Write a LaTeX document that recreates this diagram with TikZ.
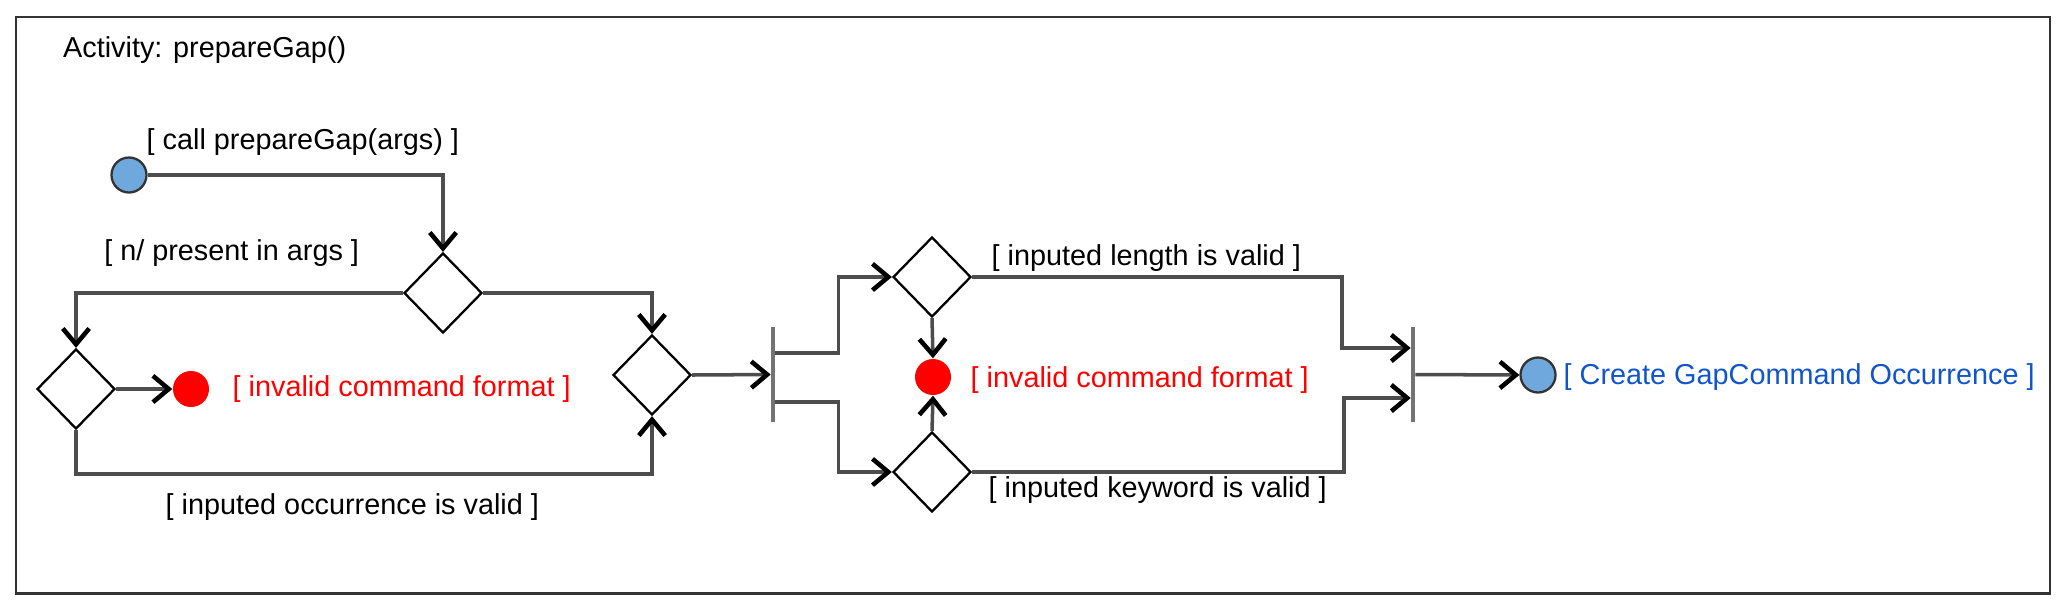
\documentclass[tikz,border=0pt]{standalone}
\usepackage{fontspec}
\setmainfont{Liberation Sans}
\usepackage{xcolor}
\usepackage{tikz}
\usetikzlibrary{shapes.geometric, arrows.meta, positioning}

\definecolor{nodeblue}{HTML}{6FA8DC}
\definecolor{textblue}{HTML}{1155CC}
\definecolor{flowgray}{HTML}{4D4D4D}

\tikzset{
  decision/.style={diamond, draw=black, line width=0.65pt, fill=white,
    minimum width=0.78cm, minimum height=0.8cm, inner sep=0pt},
  endpoint/.style={circle, draw=black!80, fill=nodeblue, line width=0.65pt,
    minimum size=0.35cm, inner sep=0pt},
  errdot/.style={circle, fill=red, minimum size=0.36cm, inner sep=0pt},
  syncbar/.style={rectangle, fill=black!55, minimum width=0.9pt,
    minimum height=0.95cm, inner sep=0pt},
  guard/.style={anchor=west, inner sep=0pt, font=\fontsize{8.2}{10}\selectfont},
  flow/.style={draw=flowgray, line width=1pt,
    -{Straight Barb[length=4.5pt, width=7.5pt, line width=1.3pt, color=black]}},
}

\begin{document}
\begin{tikzpicture}
  \useasboundingbox (0,0) rectangle (20.70,6.08);
  \draw[black!80, line width=0.6pt] (0.16,0.145) rectangle (20.50,5.91);
  \node[guard] (title) at (0.625,5.58) {Activity: prepareGap()};

  % left part
  \node[endpoint] (start) at (1.29,4.33) {};
  \node[guard] (callLbl) at (1.46,4.66) {[ call prepareGap(args) ]};
  \node[decision] (dArgs) at (4.43,3.15) {};
  \node[guard] (argsLbl) at (1.036,3.545) {[ n/ present in args ]};
  \node[decision] (dOcc) at (0.76,2.19) {};
  \node[errdot] (errA) at (1.91,2.19) {};
  \node[guard, text=red] (errALbl) at (2.32,2.19) {[ invalid command format ]};
  \node[decision] (dMerge) at (6.52,2.33) {};
  \node[guard] (occLbl) at (1.65,1.01) {[ inputed occurrence is valid ]};

  \draw[flow] (start.east) -| (dArgs.north);
  \draw[flow] (dArgs.west) -| (dOcc.north);
  \draw[flow] (dArgs.east) -| (dMerge.north);
  \draw[flow] (dOcc.east) -- (errA.west);
  \draw[flow] (dOcc.south) -- ++(0,-0.44) -| (dMerge.south);

  % fork and checks
  \node[syncbar] (fork) at (7.73,2.335) {};
  \node[decision] (dLen) at (9.32,3.31) {};
  \node[decision] (dKey) at (9.32,1.36) {};
  \node[errdot] (errB) at (9.33,2.31) {};
  \node[guard, text=red] (errBLbl) at (9.70,2.28) {[ invalid command format ]};
  \node[guard] (lenLbl) at (9.91,3.50) {[ inputed length is valid ]};
  \node[guard] (keyLbl) at (9.88,1.18) {[ inputed keyword is valid ]};

  \draw[flow] (dMerge.east) -- (fork.west);
  \draw[flow] ([yshift=0.215cm]fork.east) -- ++(0.63,0) |- (dLen.west);
  \draw[flow] ([yshift=-0.275cm]fork.east) -- ++(0.63,0) |- (dKey.west);
  \draw[flow] (dLen.south) -- (errB.north);
  \draw[flow] (dKey.north) -- (errB.south);

  % join and end
  \node[syncbar] (join) at (14.13,2.335) {};
  \node[endpoint] (final) at (15.38,2.33) {};
  \node[guard, text=textblue] (finalLbl) at (15.63,2.31) {[ Create GapCommand Occurrence ]};

  \draw[flow] (dLen.east) -- ++(3.70,0) |- ([yshift=0.265cm]join.west);
  \draw[flow] (dKey.east) -- ++(3.72,0) |- ([yshift=-0.235cm]join.west);
  \draw[flow] (join.east) -- (final.west);
\end{tikzpicture}
\end{document}
